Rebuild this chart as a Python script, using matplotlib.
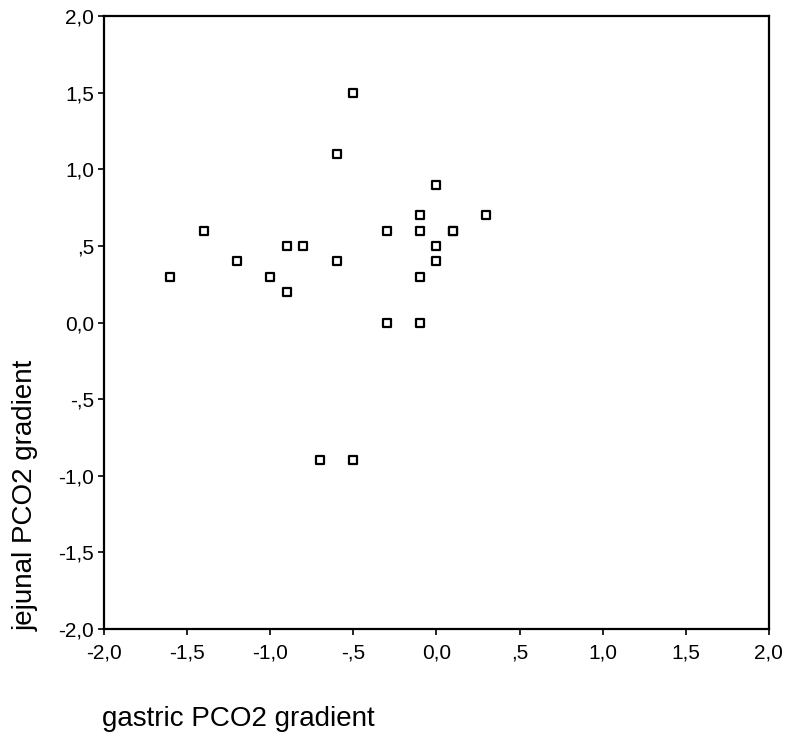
import numpy as np
import matplotlib.pyplot as plt

plt.rcParams['font.family'] = ['Liberation Sans', 'DejaVu Sans']

gastric = np.array([-1.6, -1.4, -1.2, -1.0, -0.9, -0.9, -0.8, -0.6, -0.6, -0.5,
                    -0.7, -0.5, -0.3, -0.3, -0.1, -0.1, -0.1, -0.1, 0.0, 0.0,
                    0.0, 0.1, 0.1, 0.3])
jejunal = np.array([0.3, 0.6, 0.4, 0.3, 0.5, 0.2, 0.5, 0.4, 1.1, 1.5,
                    -0.9, -0.9, 0.6, 0.0, 0.7, 0.6, 0.3, 0.0, 0.9, 0.5,
                    0.4, 0.6, 0.6, 0.7])

ticks = [-2.0, -1.5, -1.0, -0.5, 0.0, 0.5, 1.0, 1.5, 2.0]
tick_labels = ['-2,0', '-1,5', '-1,0', '-,5', '0,0', ',5', '1,0', '1,5', '2,0']

fig = plt.figure(figsize=(7.87, 7.42), dpi=100)
ax = fig.add_axes([0.1321, 0.1523, 0.977 - 0.1321, 0.9784 - 0.1523])

ax.scatter(gastric, jejunal, marker='s', s=40, facecolors='white',
           edgecolors='black', linewidths=1.6, zorder=3)

ax.set_xlim(-2, 2)
ax.set_ylim(-2, 2)
ax.set_xticks(ticks)
ax.set_xticklabels(tick_labels)
ax.set_yticks(ticks)
ax.set_yticklabels(tick_labels)
ax.tick_params(direction='out', length=4.5, width=1.2, labelsize=15)
ax.tick_params(axis='x', pad=6)
ax.tick_params(axis='y', pad=2.5)
for s in ax.spines.values():
    s.set_linewidth(1.6)

fig.text(0.129, 1 - 719 / 742, 'gastric PCO2 gradient', fontsize=20,
         ha='left', va='center')
fig.text(26 / 787, 1 - 631 / 742, 'jejunal PCO2 gradient', fontsize=20,
         rotation=90, ha='center', va='bottom')

fig.savefig('out.png', dpi=100)
